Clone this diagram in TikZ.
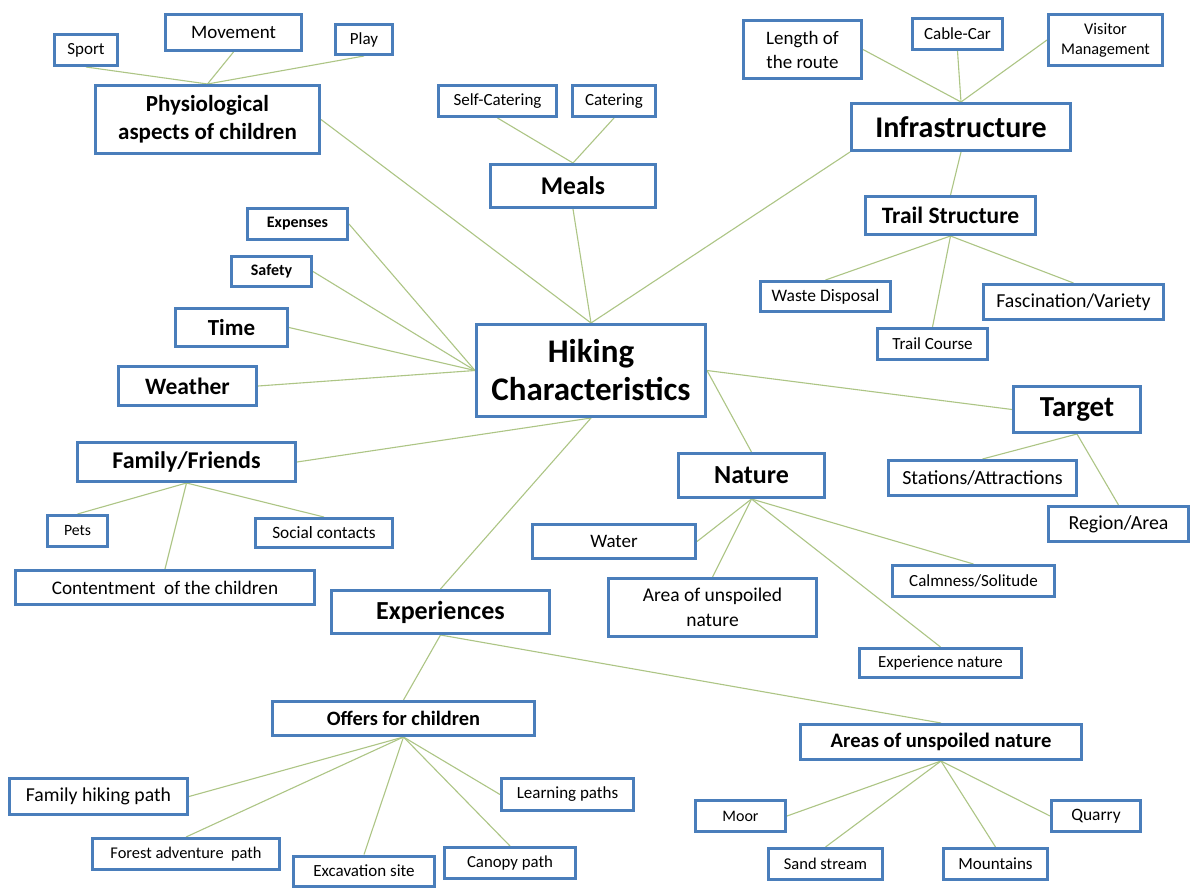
\documentclass[tikz,border=0pt]{standalone}
\usepackage{fontspec}
\setmainfont{Carlito}
\usetikzlibrary{backgrounds}
\definecolor{boxblue}{HTML}{4A7EBB}
\definecolor{linkgreen}{HTML}{ADC585}
\tikzset{
  box/.style 2 args={draw=boxblue, line width=3pt, fill=white, rectangle, inner sep=0pt,
     align=center, minimum width=#1, minimum height=#2},
  fs/.style 2 args={font=\fontsize{#1}{#2}\selectfont},
  bfs/.style 2 args={font=\fontsize{#1}{#2}\selectfont\bfseries},
  link/.style={draw=linkgreen, line width=1.1pt},
}
\begin{document}
\begin{tikzpicture}[x=1pt,y=-1pt]
\useasboundingbox (0,0) rectangle (1191,888);
% ---- nodes ----
\node[box={63pt}{31pt}, fs={17}{20}] (sport) at (86,50) {Sport};
\node[box={136pt}{36pt}, fs={19}{22}] (movement) at (233.5,32.5) {Movement};
\node[box={57pt}{30pt}, fs={17}{20}] (play) at (364,39.5) {Play};
\node[box={224pt}{68pt}, bfs={23}{28}] (phys) at (207.5,119.5) {Physiological\\aspects of children};
\node[box={100pt}{31pt}, bfs={16}{19}] (expenses) at (297.5,224) {Expenses};
\node[box={80pt}{30pt}, bfs={16}{19}] (safety) at (271.5,271.5) {Safety};
\node[box={112pt}{38pt}, bfs={23}{27}] (time) at (231.5,327.5) {Time};
\node[box={138pt}{39pt}, bfs={23.5}{28}] (weather) at (187.5,386) {Weather};
\node[box={118pt}{31pt}, fs={17}{20}] (selfcat) at (497.5,101) {Self-Catering};
\node[box={83pt}{31pt}, fs={17}{20}] (catering) at (614,101) {Catering};
\node[box={165pt}{43pt}, bfs={25.5}{30}] (meals) at (573,186) {Meals};
\node[box={118pt}{58pt}, fs={19}{24}] (length) at (802.5,49.5) {Length of\\the route};
\node[box={90pt}{31pt}, fs={17}{20}] (cable) at (957.5,34) {Cable-Car};
\node[box={114pt}{51pt}, fs={16.3}{20}] (visitor) at (1105.5,40) {Visitor\\Management};
\node[box={219pt}{47pt}, bfs={30}{35}] (infra) at (961,127) {Infrastructure};
\node[box={170pt}{38pt}, bfs={23.5}{28}] (trail) at (950.5,215.5) {Trail Structure};
\node[box={130pt}{30pt}, fs={17.5}{21}] (waste) at (825.5,296.5) {Waste Disposal};
\node[box={180pt}{35pt}, fs={19.8}{24}] (fasc) at (1073.5,302) {Fascination/Variety};
\node[box={110pt}{31pt}, fs={17}{20}] (course) at (932.5,344) {Trail Course};
\node[box={229pt}{92pt}, bfs={33}{38}] (hike) at (591,370.5) {Hiking\\Characteristics};
\node[box={127pt}{46pt}, bfs={29}{34}] (target) at (1077,409.5) {Target};
\node[box={146pt}{44pt}, bfs={26}{30}] (nature) at (751.5,475.5) {Nature};
\node[box={188pt}{35pt}, fs={20}{24}] (stations) at (982.5,478) {Stations/Attractions};
\node[box={140pt}{35pt}, fs={19.9}{24}] (region) at (1118.5,524) {Region/Area};
\node[box={163pt}{34pt}, fs={19}{23}] (water) at (614,541.5) {Water};
\node[box={208pt}{58pt}, fs={19.5}{25}] (area) at (712.5,607.5) {Area of unspoiled\\nature};
\node[box={162pt}{31pt}, fs={17}{20}] (calm) at (973.5,581) {Calmness/Solitude};
\node[box={162pt}{29pt}, fs={16.9}{20}] (expnat) at (940.5,663) {Experience nature};
\node[box={218pt}{39pt}, bfs={24}{28}] (family) at (186.5,462) {Family/Friends};
\node[box={60pt}{31pt}, fs={15.7}{19}] (pets) at (77.5,531) {Pets};
\node[box={137pt}{29pt}, fs={17.3}{20}] (social) at (324,533) {Social contacts};
\node[box={299pt}{34pt}, fs={19.2}{23}] (content) at (165,587.5) {Contentment\ \ of the children};
\node[box={218pt}{43pt}, bfs={26}{30}] (exper) at (440.5,612) {Experiences};
\node[box={262pt}{34pt}, bfs={20.4}{24}] (offers) at (403.5,718.5) {Offers for children};
\node[box={178pt}{36pt}, fs={19.7}{23}] (famhike) at (98.5,796.5) {Family hiking path};
\node[box={187pt}{31pt}, fs={16.4}{20}] (forest) at (186,854) {Forest adventure\ \ path};
\node[box={141pt}{30pt}, fs={17}{20}] (excav) at (364,871) {Excavation site};
\node[box={131pt}{31pt}, fs={16.8}{20}] (canopy) at (510,863) {Canopy path};
\node[box={132pt}{32pt}, fs={17}{20}] (learn) at (567.5,794.5) {Learning paths};
\node[box={281pt}{35pt}, bfs={20.6}{24}] (areas) at (941,742) {Areas of unspoiled nature};
\node[box={90pt}{31pt}, fs={16}{19}] (moor) at (740.5,816) {Moor};
\node[box={114pt}{31pt}, fs={16.5}{20}] (sand) at (825.5,864) {Sand stream};
\node[box={104pt}{31pt}, fs={17}{20}] (mount) at (995.5,864) {Mountains};
\node[box={89pt}{31pt}, fs={17.4}{20}] (quarry) at (1096,816) {Quarry};
% ---- connectors ----
\begin{scope}[on background layer]
\fill[white] (0,0) rectangle (1191,888);
\draw[link] (sport.south) -- (phys.north);
\draw[link] (movement.south) -- (phys.north);
\draw[link] (play.south) -- (phys.north);
\draw[link] (phys.east) -- (hike.north);
\draw[link] (expenses.east) -- (hike.west);
\draw[link] (safety.east) -- (hike.west);
\draw[link] (time.east) -- (hike.west);
\draw[link] (weather.east) -- (hike.west);
\draw[link] (selfcat.south) -- (meals.north);
\draw[link] (catering.south) -- (meals.north);
\draw[link] (meals.south) -- (hike.north);
\draw[link] (length.east) -- (infra.north);
\draw[link] (cable.south) -- (infra.north);
\draw[link] (visitor.west) -- (infra.north);
\draw[link] (infra.south west) -- (hike.north);
\draw[link] (infra.south) -- (trail.north);
\draw[link] (trail.south) -- (waste.north);
\draw[link] (trail.south) -- (course.north);
\draw[link] (trail.south) -- (fasc.north);
\draw[link] (hike.east) -- (target.west);
\draw[link] (hike.east) -- (nature.north);
\draw[link] (target.south) -- (stations.north);
\draw[link] (target.south) -- (region.north);
\draw[link] (nature.south) -- (water.east);
\draw[link] (nature.south) -- (area.north);
\draw[link] (nature.south) -- (calm.north);
\draw[link] (nature.south) -- (expnat.north);
\draw[link] (hike.south) -- (family.east);
\draw[link] (hike.south) -- (exper.north);
\draw[link] (family.south) -- (pets.north);
\draw[link] (family.south) -- (social.north);
\draw[link] (family.south) -- (content.north);
\draw[link] (exper.south) -- (offers.north);
\draw[link] (exper.south) -- (areas.north);
\draw[link] (offers.south) -- (famhike.east);
\draw[link] (offers.south) -- (forest.north);
\draw[link] (offers.south) -- (excav.north);
\draw[link] (offers.south) -- (canopy.north);
\draw[link] (offers.south) -- (learn.west);
\draw[link] (areas.south) -- (moor.east);
\draw[link] (areas.south) -- (sand.north);
\draw[link] (areas.south) -- (mount.north);
\draw[link] (areas.south) -- (quarry.west);
\end{scope}
\end{tikzpicture}
\end{document}
